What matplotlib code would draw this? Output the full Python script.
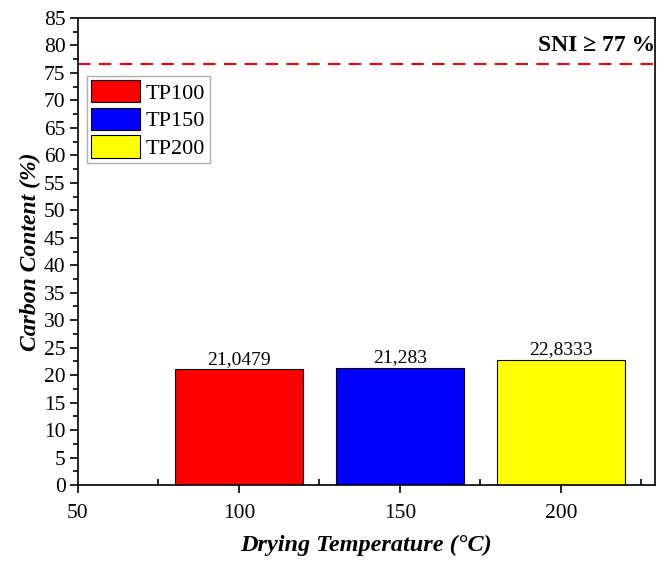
import matplotlib.pyplot as plt
import numpy as np
from matplotlib.ticker import MultipleLocator

plt.rcParams['font.family'] = ['Liberation Serif', 'DejaVu Serif']

# data
temps = [100, 150, 200]
carbon = [21.0479, 21.283, 22.8333]
value_labels = ["21,0479", "21,283", "22,8333"]
series_names = ["TP100", "TP150", "TP200"]
colors = ["#ff0000", "#0000ff", "#ffff00"]
sni_limit = 76.6

fig = plt.figure(figsize=(6.57, 5.62), dpi=100)
ax = fig.add_axes([78 / 657, 1 - 485 / 562, (655 - 78) / 657, (485 - 18) / 562])

for t, c, name, col, lab in zip(temps, carbon, series_names, colors, value_labels):
    ax.bar(t, c, 40, color=col, edgecolor="black", linewidth=0.8, label=name)
    ax.text(t, c + 0.3, lab, ha="center", va="bottom", fontsize=14)

ax.axhline(sni_limit, color="red", linestyle=(0, (6, 4)), linewidth=1.5)
ax.text(229.2, 78.0, "SNI \u2265 77 %", ha="right", va="bottom",
        fontsize=17, fontweight="bold")

ax.set_xlim(50, 229.2)
ax.set_ylim(0, 85)
ax.xaxis.set_major_locator(MultipleLocator(50))
ax.xaxis.set_minor_locator(MultipleLocator(25))
ax.yaxis.set_major_locator(MultipleLocator(5))
ax.yaxis.set_minor_locator(MultipleLocator(2.5))
ax.tick_params(axis="both", which="major", direction="out", length=6,
               width=1.2, labelsize=15.5)
ax.tick_params(axis="x", which="major", pad=8)
ax.tick_params(axis="y", which="major", pad=3)
ax.tick_params(axis="x", which="minor", direction="in", length=4, width=1.2)
ax.tick_params(axis="y", which="minor", direction="out", length=3.5, width=1.2)
for s in ax.spines.values():
    s.set_linewidth(1.2)

ax.set_xlabel("Drying Temperature (\u00b0C)", fontsize=17.5, fontweight="bold",
              fontstyle="italic", labelpad=8)
ax.set_ylabel("Carbon Content (%)", fontsize=17, fontweight="bold",
              fontstyle="italic", labelpad=2)

ax.legend(loc="upper left", bbox_to_anchor=(9 / 577, 0.876), fontsize=16,
          frameon=True, fancybox=False, edgecolor="#999999",
          handlelength=2.2, handleheight=1.15, handletextpad=0.25,
          labelspacing=0.18, borderpad=0.2, borderaxespad=0)

plt.savefig("out.png", dpi=100)
plt.close()
